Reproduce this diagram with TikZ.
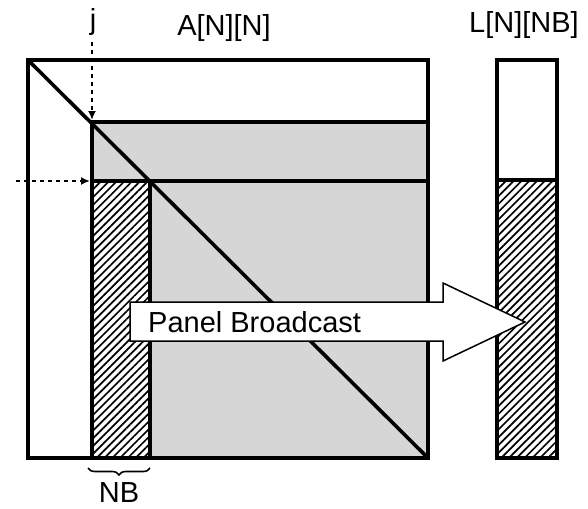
\documentclass[tikz,border=0pt]{standalone}
\usepackage{fontspec}
\setmainfont{Liberation Sans}
\usetikzlibrary{arrows.meta,patterns.meta,decorations.pathreplacing}
\definecolor{panelgray}{RGB}{214,214,214}
\tikzset{
  thick line/.style={line width=3.6pt, line join=miter},
  hatch/.style={pattern={Lines[angle=45,distance=5.5pt,line width=1.7pt]}, pattern color=black},
  label text/.style={font=\fontsize{29}{32}\selectfont, inner sep=0pt},
  dotarrow/.style={line width=2pt, dash pattern=on 4pt off 4pt, -{Latex[length=9pt,width=8pt]}},
  bigarrow/.style={fill=white, draw=black, line width=1.5pt, line join=miter},
}
\begin{document}
\begin{tikzpicture}[x=1pt,y=-1pt]
\useasboundingbox (0,0) rectangle (588,508);
% matrix A
\fill[white] (28,60) rectangle (428,458);
\fill[panelgray] (92,122) rectangle (428,458);
\fill[white] (92,181) rectangle (150,458);
\fill[hatch] (92,181) rectangle (150,458);
\draw[thick line] (92,458) -- (92,122) -- (428,122);
\draw[thick line] (92,181) -- (428,181);
\draw[thick line] (150,181) -- (150,458);
\draw[thick line] (28,60) -- (428,458);
\draw[thick line] (28,60) rectangle (428,458);
% matrix L
\fill[white] (497,60) rectangle (557,180);
\fill[white] (497,180) rectangle (557,458);
\fill[hatch] (497,180) rectangle (557,458);
\draw[thick line] (497,180) -- (557,180);
\draw[thick line] (497,60) rectangle (557,458);
% labels
\node[label text, anchor=base] (j) at (93,30) {j};
\node[label text, anchor=base] (A) at (224,36) {A[N][N]};
\node[label text, anchor=base] (L) at (524,33) {L[N][NB]};
\node[label text, anchor=base] (NB) at (119,502) {NB};
% dotted arrows
\coordinate (jtop) at (92,42);
\coordinate (jpos) at (92,120);
\coordinate (rowstart) at (16,181);
\coordinate (rowpos) at (90,181);
\draw[dotarrow] (jtop) -- (jpos);
\draw[dotarrow] (rowstart) -- (rowpos);
% brace
\coordinate (br1) at (150,468);
\coordinate (br2) at (88,468);
\draw[line width=1.6pt, decorate, decoration={brace, amplitude=7pt}] (br1) -- (br2);
% panel broadcast arrow
\draw[bigarrow] (130,302) -- (443,302) -- (443,283) -- (525,322) -- (443,361) -- (443,341) -- (130,341) -- cycle;
\node[label text, anchor=base west] (pb) at (148,332) {Panel Broadcast};
\end{tikzpicture}
\end{document}
